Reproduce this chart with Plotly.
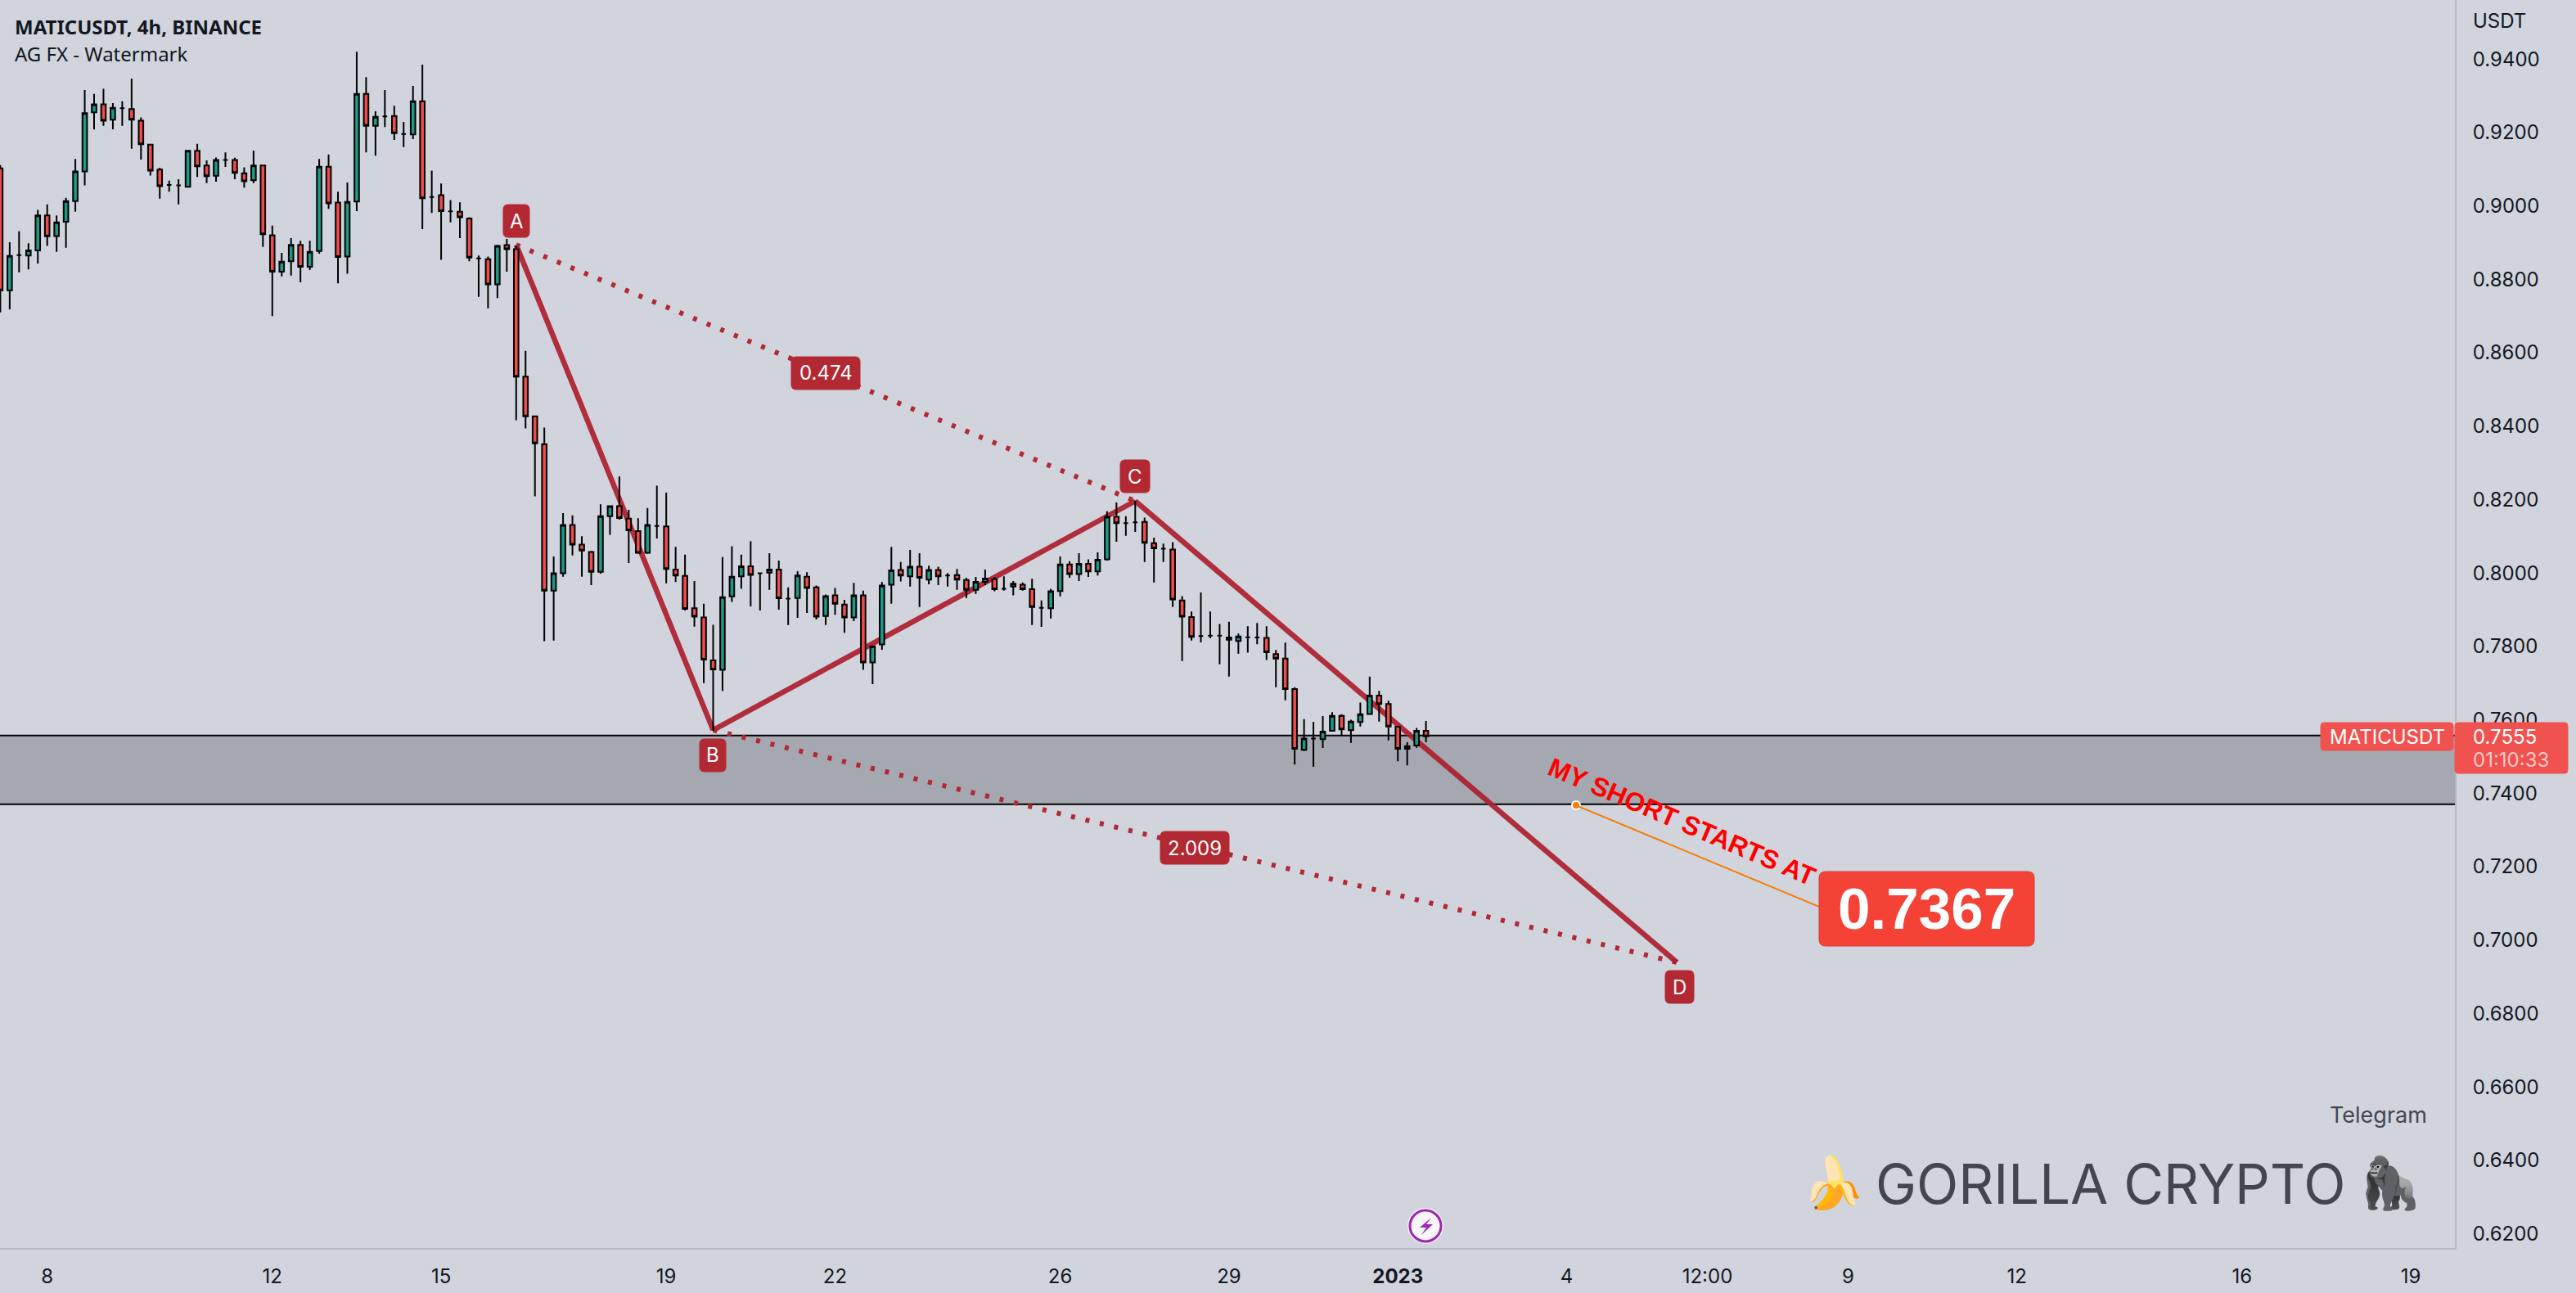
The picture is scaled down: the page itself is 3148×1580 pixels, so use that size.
import pandas as pd
import plotly.graph_objects as go

BG = "#d1d4dc"
ZONE = "#a5a8b0"
INK = "#131722"
WATERMARK = "#434651"
AXIS_LINE = "#b8bac2"
UP = "#1e9985"
DOWN = "#ef4b4b"
PATTERN = "#b22833"
TAG_RED = "#f0524f"
CALLOUT_RED = "#f44336"
ORANGE = "#f57c00"
PURPLE = "#9c27b0"

PLOT_W = 3000
PLOT_H = 1525
UI_FONT = "Inter"

BAR_TIMES = pd.date_range("2022-12-07 04:00", periods=153, freq="4h")

OPEN = [
    .9102, .8770, .8866, .8865, .8879, .8974, .8918, .8957, .9013, .9094,
    .9255, .9277, .9235, .9266, .9264, .9232, .9167, .9099, .9057, .9056,
    .9052, .9150, .9110, .9082, .9125, .9125, .9089, .9070, .9110, .8920,
    .8821, .8849, .8894, .8834, .8877, .9107, .9009, .8862, .9012, .9305,
    .9218, .9244, .9245, .9196, .9195, .9285, .9024, .9029, .8985, .8984,
    .8966, .8857, .8855, .8786, .8893, .8882, .8535, .8427, .8351, .7952,
    .7999, .8131, .8077, .8057, .8003, .8155, .8182, .8148, .8114, .8055,
    .8128, .8127, .8009, .7992, .7904, .7879, .7762, .7736, .7936, .7991,
    .8018, .7999, .8001, .8009, .7930, .7932, .7990, .7961, .7883, .7939,
    .7914, .7879, .7939, .7756, .7805, .7968, .8008, .7991, .8017, .7982,
    .8008, .7993, .7994, .7981, .7954, .7976, .7983, .7957, .7963, .7968,
    .7956, .7905, .7904, .7951, .8023, .7997, .8025, .8004, .8037, .8153,
    .8136, .8138, .8139, .8081, .8066, .8064, .7925, .7880, .7828, .7829,
    .7829, .7824, .7815, .7825, .7824, .7823, .7779, .7767, .7684, .7518,
    .7549, .7547, .7570, .7611, .7572, .7594, .7616, .7666, .7643, .7581,
    .7528, .7530, .7570,
]
HIGH = [
    .9111, .8901, .8931, .8898, .8989, .9004, .8974, .9022, .9128, .9316,
    .9305, .9319, .9280, .9285, .9347, .9241, .9167, .9104, .9069, .9073,
    .9150, .9169, .9124, .9132, .9146, .9131, .9105, .9151, .9110, .8946,
    .8872, .8912, .8905, .8905, .9128, .9140, .9039, .9064, .9420, .9351,
    .9258, .9316, .9273, .9229, .9327, .9385, .9096, .9061, .9016, .9010,
    .8969, .8865, .8862, .8894, .8910, .8891, .8605, .8427, .8396, .8045,
    .8163, .8157, .8100, .8060, .8187, .8184, .8263, .8172, .8149, .8177,
    .8238, .8219, .8071, .8050, .7978, .7916, .7859, .8043, .8073, .8050,
    .8087, .7999, .8054, .8034, .7961, .8005, .8002, .7966, .7941, .7959,
    .7927, .7973, .7952, .7800, .7975, .8071, .8030, .8063, .8054, .8020,
    .8017, .8000, .8011, .7987, .7989, .8009, .7989, .7991, .7978, .7974,
    .7984, .7925, .7957, .8045, .8032, .8054, .8037, .8056, .8168, .8192,
    .8155, .8197, .8151, .8096, .8080, .8084, .7937, .7895, .7947, .7895,
    .7861, .7867, .7835, .7855, .7864, .7855, .7790, .7810, .7689, .7602,
    .7594, .7610, .7621, .7615, .7600, .7647, .7718, .7679, .7652, .7582,
    .7539, .7578, .7597,
]
LOW = [
    .8710, .8718, .8819, .8827, .8843, .8891, .8875, .8886, .8984, .9056,
    .9208, .9218, .9209, .9218, .9156, .9126, .9083, .9020, .9039, .9004,
    .9052, .9079, .9062, .9066, .9106, .9073, .9050, .9062, .8888, .8700,
    .8808, .8810, .8792, .8825, .8870, .8992, .8789, .8815, .8986, .9146,
    .9137, .9215, .9180, .9160, .9182, .8937, .8981, .8853, .8955, .8912,
    .8849, .8752, .8721, .8749, .8821, .8416, .8394, .8209, .7814, .7816,
    .7990, .8048, .7990, .7967, .7998, .8104, .8145, .8027, .8052, .8052,
    .8094, .7972, .7975, .7898, .7854, .7700, .7570, .7679, .7921, .7957,
    .7909, .7898, .7954, .7900, .7858, .7878, .7891, .7873, .7858, .7886,
    .7837, .7869, .7736, .7697, .7791, .7916, .7977, .7963, .7907, .7969,
    .7967, .7963, .7954, .7932, .7943, .7967, .7950, .7952, .7939, .7952,
    .7858, .7853, .7876, .7936, .7987, .7978, .7989, .7993, .8034, .8085,
    .8101, .8112, .8030, .7974, .8030, .7907, .7760, .7816, .7811, .7822,
    .7751, .7718, .7780, .7783, .7806, .7763, .7689, .7653, .7478, .7515,
    .7472, .7523, .7570, .7558, .7537, .7582, .7616, .7595, .7544, .7487,
    .7476, .7524, .7539,
]
CLOSE = [
    .8770, .8864, .8866, .8879, .8974, .8917, .8955, .9013, .9094, .9253,
    .9277, .9232, .9267, .9266, .9235, .9168, .9096, .9054, .9057, .9056,
    .9150, .9108, .9081, .9125, .9125, .9090, .9067, .9110, .8923, .8821,
    .8848, .8894, .8834, .8875, .9107, .9007, .8861, .9011, .9305, .9218,
    .9243, .9244, .9198, .9196, .9285, .9021, .9024, .8986, .8985, .8969,
    .8859, .8857, .8786, .8891, .8882, .8535, .8427, .8353, .7952, .7999,
    .8131, .8077, .8061, .8003, .8155, .8182, .8150, .8116, .8055, .8131,
    .8128, .8011, .7993, .7902, .7881, .7764, .7737, .7934, .7990, .8018,
    .7995, .7999, .8009, .7931, .7930, .7993, .7959, .7881, .7937, .7916,
    .7879, .7939, .7756, .7800, .7966, .8007, .7993, .8017, .7987, .8008,
    .7991, .7993, .7982, .7954, .7976, .7985, .7956, .7957, .7971, .7956,
    .7907, .7905, .7950, .8023, .7997, .8025, .8004, .8036, .8153, .8136,
    .8136, .8138, .8082, .8067, .8066, .7928, .7881, .7826, .7828, .7829,
    .7829, .7818, .7827, .7825, .7824, .7784, .7767, .7684, .7521, .7549,
    .7549, .7568, .7611, .7574, .7595, .7615, .7666, .7643, .7582, .7521,
    .7521, .7570, .7555,
]

PRICE_TICKS = [.62, .64, .66, .68, .70, .72, .74, .76, .78, .80, .82, .84, .86, .88, .90, .92, .94]
DATE_TICKS = ["2022-12-08", "2022-12-12", "2022-12-15", "2022-12-19", "2022-12-22", "2022-12-26", "2022-12-29",
              "2023-01-01", "2023-01-04", "2023-01-06 12:00", "2023-01-09", "2023-01-12", "2023-01-16", "2023-01-19"]
DATE_LABELS = ["8", "12", "15", "19", "22", "26", "29", "<b>2023</b>", "4", "12:00", "9", "12", "16", "19"]

# harmonic pattern pivots
POINT_A = ("2022-12-16 08:00", .8894)
POINT_B = ("2022-12-19 20:00", .7572)
POINT_C = ("2022-12-27 08:00", .8196)
POINT_D = ("2023-01-05 23:00", .6939)

ZONE_TOP = .7557
ZONE_BOTTOM = .7370
SHORT_FROM = ("2023-01-04 04:00", .7367)
SHORT_TO = ("2023-01-08 12:00", .7090)


def px_x(x):
    return x / PLOT_W


def px_y(y):
    return 1 - y / PLOT_H


def rounded_box(x0, y0, x1, y1, fill, r=6, border=None):
    # corners in screen pixels, no built-in rounded rect in plotly
    path = (f"M {px_x(x0 + r)} {px_y(y0)} L {px_x(x1 - r)} {px_y(y0)} "
            f"Q {px_x(x1)} {px_y(y0)} {px_x(x1)} {px_y(y0 + r)} L {px_x(x1)} {px_y(y1 - r)} "
            f"Q {px_x(x1)} {px_y(y1)} {px_x(x1 - r)} {px_y(y1)} L {px_x(x0 + r)} {px_y(y1)} "
            f"Q {px_x(x0)} {px_y(y1)} {px_x(x0)} {px_y(y1 - r)} L {px_x(x0)} {px_y(y0 + r)} "
            f"Q {px_x(x0)} {px_y(y0)} {px_x(x0 + r)} {px_y(y0)} Z")
    return dict(type="path", path=path, xref="paper", yref="paper", fillcolor=fill,
                line=dict(color=border or fill, width=1), layer="above")


def disc(cx, cy, r, fill, line=None):
    return dict(type="circle", xref="paper", yref="paper",
                x0=px_x(cx - r), x1=px_x(cx + r), y0=px_y(cy + r), y1=px_y(cy - r),
                fillcolor=fill, line=line or dict(width=0), layer="above")


def bolt(cx, cy):
    pts = [(7, -10), (-7, 2), (1, 2), (-5, 11), (9, -2), (1, -2)]
    path = "M " + " L ".join(f"{px_x(cx + a)} {px_y(cy + b)}" for a, b in pts) + " Z"
    return dict(type="path", path=path, xref="paper", yref="paper", fillcolor=PURPLE,
                line=dict(width=0), layer="above")


def label(x, y, text, size=24, color="white", font=UI_FONT, xanchor="center", **kwargs):
    return dict(x=px_x(x), y=px_y(y), xref="paper", yref="paper", text=text, showarrow=False,
                xanchor=xanchor, yanchor="middle", font=dict(family=font, size=size, color=color), **kwargs)


def segment(p, q, **line):
    return dict(type="line", x0=p[0], y0=p[1], x1=q[0], y1=q[1], xref="x", yref="y",
                layer="below", line=line)


fig = go.Figure(go.Candlestick(
    x=BAR_TIMES, open=OPEN, high=HIGH, low=LOW, close=CLOSE,
    increasing=dict(fillcolor=UP, line=dict(color="black", width=2)),
    decreasing=dict(fillcolor=DOWN, line=dict(color="black", width=2)),
    whiskerwidth=0, showlegend=False,
))

shapes = [
    dict(type="rect", xref="paper", x0=0, x1=1, yref="y", y0=ZONE_BOTTOM, y1=ZONE_TOP,
         fillcolor=ZONE, line=dict(width=0), layer="below"),
    dict(type="line", xref="paper", x0=0, x1=1, yref="y", y0=ZONE_TOP, y1=ZONE_TOP,
         line=dict(color="black", width=2), layer="below"),
    dict(type="line", xref="paper", x0=0, x1=1, yref="y", y0=ZONE_BOTTOM, y1=ZONE_BOTTOM,
         line=dict(color="black", width=2), layer="below"),
    segment(POINT_A, POINT_C, color=PATTERN, width=6, dash="5px,13px"),
    segment(POINT_B, POINT_D, color=PATTERN, width=6, dash="5px,13px"),
    segment(POINT_A, POINT_B, color="rgba(172,30,45,0.92)", width=6.5),
    segment(POINT_B, POINT_C, color="rgba(172,30,45,0.92)", width=6.5),
    segment(POINT_C, POINT_D, color="rgba(172,30,45,0.92)", width=6.5),
    dict(type="line", x0=SHORT_FROM[0], y0=SHORT_FROM[1], x1=SHORT_TO[0], y1=SHORT_TO[1],
         xref="x", yref="y", line=dict(color=ORANGE, width=2), layer="above"),
    rounded_box(615, 250, 647, 290, PATTERN),
    rounded_box(855, 903, 887, 943, PATTERN),
    rounded_box(1369, 562, 1405, 602, PATTERN),
    rounded_box(2035, 1186, 2070, 1226, PATTERN),
    rounded_box(967, 436, 1051, 476, PATTERN),
    rounded_box(1418, 1016, 1502, 1056, PATTERN),
    rounded_box(2223, 1065, 2486, 1156, CALLOUT_RED, r=8, border="#d8393a"),
    rounded_box(2836, 883, 2998, 917, TAG_RED, r=4),
    rounded_box(3000, 883, 3138, 945, TAG_RED, r=4),
    # lightning badge next to the time axis
    disc(1742, 1498, 22, "#f2eef4"),
    disc(1742, 1498, 19, "#f7f5f8", line=dict(color=PURPLE, width=3)),
    bolt(1742, 1498),
]

annotations = [
    label(16, 32, "<b>MATICUSDT, 4h, BINANCE</b>", size=24, color=INK, font="Noto Sans", xanchor="left"),
    label(16, 66, "AG FX - Watermark", size=24, color=INK, font="Noto Sans", xanchor="left"),
    label(3020, 26, "USDT", size=24, color=INK, xanchor="left"),
    label(631, 270, "A"), label(871, 923, "B"), label(1387, 582, "C"), label(2052, 1206, "D"),
    label(1009, 456, "0.474"), label(1460, 1036, "2.009"),
    label(2354, 1110, "<b>0.7367</b>", size=71, font="Liberation Sans"),
    label(2055, 1004, "<b>MY SHORT STARTS AT</b>", size=32, color="#ff0000", font="Liberation Sans", textangle=23),
    label(2917, 900, "MATICUSDT"),
    label(3020, 900, "0.7555", xanchor="left"),
    label(3020, 928, "01:10:33", color="rgba(255,255,255,0.7)", xanchor="left"),
    label(2968, 1362, "Telegram", size=27, color=WATERMARK, xanchor="right"),
    label(2579, 1446, "GORILLA CRYPTO", size=67, color=WATERMARK),
    label(2240, 1444, "🍌", size=62, color=WATERMARK),
    label(2920, 1444, "🦍", size=62, color=WATERMARK),
]

fig.add_trace(go.Scatter(
    x=[SHORT_FROM[0]], y=[SHORT_FROM[1]], mode="markers", showlegend=False,
    marker=dict(color=ORANGE, size=10, line=dict(color="white", width=2)),
))

fig.update_layout(
    width=3148, height=1580,
    margin=dict(l=0, r=148, t=0, b=55),
    paper_bgcolor=BG, plot_bgcolor=BG,
    shapes=shapes, annotations=annotations,
    font=dict(family=UI_FONT, size=24, color=INK),
    showlegend=False,
)
fig.update_xaxes(
    type="date", range=["2022-12-07 03:52", "2023-01-19 18:48"], rangeslider_visible=False,
    tickvals=DATE_TICKS, ticktext=DATE_LABELS, tickangle=0, showgrid=False, zeroline=False,
    showline=True, linecolor=AXIS_LINE, linewidth=2, ticks="outside", ticklen=12, tickcolor="rgba(0,0,0,0)",
)
fig.update_yaxes(
    side="right", range=[.6161, .9561], tickvals=PRICE_TICKS, tickformat=".4f", showgrid=False, zeroline=False,
    showline=True, linecolor=AXIS_LINE, linewidth=2, ticks="outside", ticklen=15, tickcolor="rgba(0,0,0,0)",
)

fig.write_html("out.html", config={"displayModeBar": False}, post_script="document.body.style.margin='0';")
